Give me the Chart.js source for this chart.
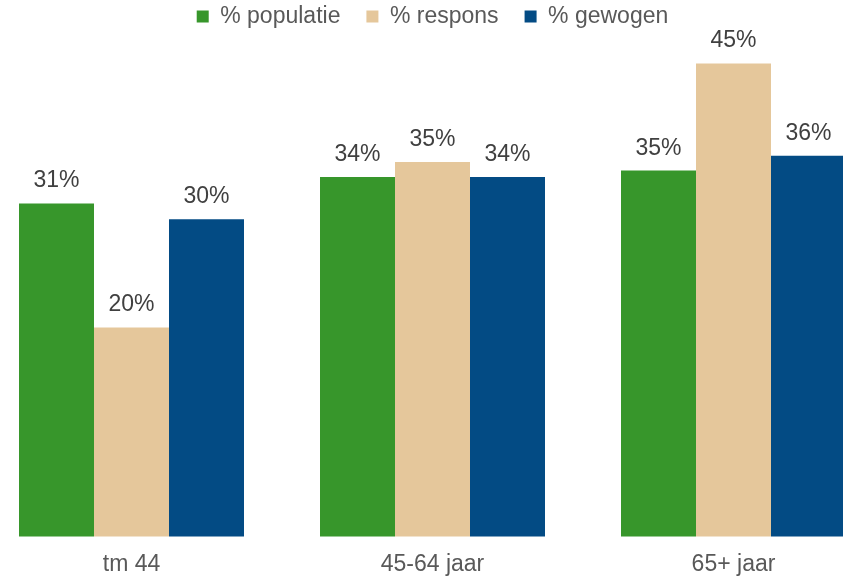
<!DOCTYPE html>
<html>
<head>
<meta charset="utf-8">
<script src="https://cdn.jsdelivr.net/npm/chart.js@4/dist/chart.umd.min.js"></script>
<style>
  html, body { margin: 0; padding: 0; background: #fff; }
  #wrap { width: 843px; height: 578px; }
</style>
</head>
<body>
<div id="wrap"><canvas id="ageChart"></canvas></div>
<script>
const categories = ["tm 44", "45-64 jaar", "65+ jaar"];
const seriesNames = ["% populatie", "% respons", "% gewogen"];
const populatie = [31.4, 33.9, 34.5];
const respons = [19.7, 35.3, 44.6];
const gewogen = [29.9, 33.9, 35.9];

// labels boven de staven
const barLabels = {
  id: "barLabels",
  afterDatasetsDraw(chart) {
    const ctx = chart.ctx;
    ctx.save();
    ctx.font = "23px 'Liberation Sans', Arial, sans-serif";
    ctx.fillStyle = "#404040";
    ctx.textAlign = "center";
    ctx.textBaseline = "alphabetic";
    chart.data.datasets.forEach((ds, i) => {
      chart.getDatasetMeta(i).data.forEach((bar, j) => {
        ctx.fillText(Math.round(ds.data[j]) + "%", bar.x, bar.y - 16);
      });
    });
    ctx.restore();
  }
};

Chart.defaults.font.family = "'Liberation Sans', Arial, sans-serif";
Chart.defaults.font.size = 23;
Chart.defaults.color = "#595959";

const ctx = document.getElementById("ageChart").getContext("2d");
new Chart(ctx, {
  type: "bar",
  data: {
    labels: categories,
    datasets: [
      { label: seriesNames[0], data: populatie, backgroundColor: "#37962B" },
      { label: seriesNames[1], data: respons, backgroundColor: "#E5C79B" },
      { label: seriesNames[2], data: gewogen, backgroundColor: "#034B84" }
    ]
  },
  options: {
    responsive: true,
    maintainAspectRatio: false,
    animation: false,
    layout: { padding: { top: -21, left: 131.5, right: 109.5, bottom: -14 } },
    datasets: {
      bar: { categoryPercentage: 0.7475, barPercentage: 1.0, clip: false }
    },
    plugins: {
      legend: {
        position: "top",
        labels: { boxWidth: 12, boxHeight: 12, padding: 26, color: "#595959" }
      },
      tooltip: { enabled: false }
    },
    scales: {
      x: {
        offset: false,
        grid: { display: false, drawTicks: false },
        border: { display: false },
        ticks: { padding: 14, color: "#595959" }
      },
      y: {
        display: false,
        min: 0,
        max: 47
      }
    }
  },
  plugins: [barLabels]
});
</script>
</body>
</html>
